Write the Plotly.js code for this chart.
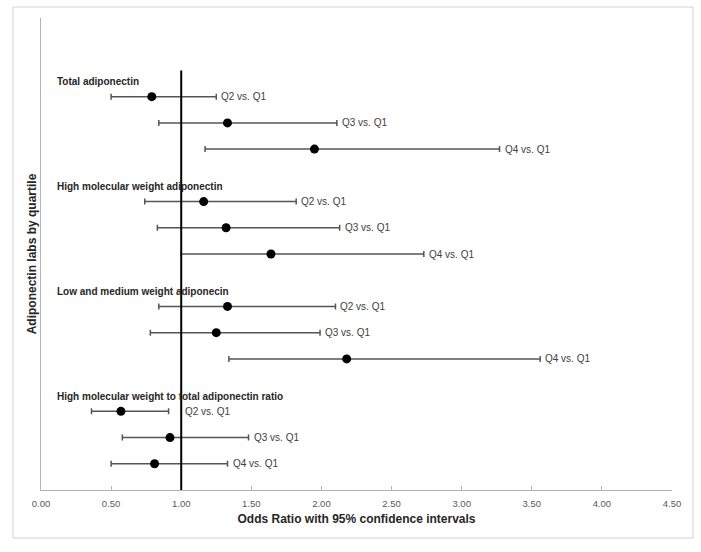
<!DOCTYPE html>
<html>
<head>
<meta charset="utf-8">
<script src="https://cdn.plot.ly/plotly-3.0.1.min.js"></script>
<style>
  html, body { margin: 0; padding: 0; background: #fff; }
  #chart { width: 701px; height: 552px; }
</style>
</head>
<body>
<div id="chart"></div>
<script>
// ---- Data ----
const groups = [
  "Total adiponectin",
  "High molecular weight adiponectin",
  "Low and medium weight adiponecin",
  "High molecular weight to total adiponectin ratio"
];
const comparisons = ["Q2 vs. Q1", "Q3 vs. Q1", "Q4 vs. Q1"];

const totalOR    = [0.79, 1.33, 1.95];
const totalLow   = [0.50, 0.84, 1.17];
const totalHigh  = [1.25, 2.11, 3.27];

const hmwOR      = [1.16, 1.32, 1.64];
const hmwLow     = [0.74, 0.83, 1.00];
const hmwHigh    = [1.82, 2.13, 2.73];

const lmwOR      = [1.33, 1.25, 2.18];
const lmwLow     = [0.84, 0.78, 1.34];
const lmwHigh    = [2.10, 1.99, 3.56];

const ratioOR    = [0.57, 0.92, 0.81];
const ratioLow   = [0.36, 0.58, 0.50];
const ratioHigh  = [0.91, 1.48, 1.33];

const xTickVals  = [0, 0.5, 1, 1.5, 2, 2.5, 3, 3.5, 4, 4.5];
const referenceOR = 1;

// ---- Build plot ----
const orSets   = [totalOR, hmwOR, lmwOR, ratioOR];
const lowSets  = [totalLow, hmwLow, lmwLow, ratioLow];
const highSets = [totalHigh, hmwHigh, lmwHigh, ratioHigh];

const xs = [], ys = [], ep = [], em = [], hi = [], labs = [];
const headerY = [];
groups.forEach((g, gi) => {
  const base = 15 - 4 * gi;
  headerY.push(base + 0.57);
  comparisons.forEach((c, ci) => {
    const o = orSets[gi][ci];
    xs.push(o);
    ys.push(base - ci);
    ep.push(highSets[gi][ci] - o);
    em.push(o - lowSets[gi][ci]);
    hi.push(highSets[gi][ci]);
    labs.push(c);
  });
});

const trace = {
  type: 'scatter',
  mode: 'markers',
  x: xs, y: ys,
  marker: { color: '#000000', size: 9 },
  error_x: {
    type: 'data', symmetric: false,
    array: ep, arrayminus: em,
    color: '#555555', thickness: 1.5, width: 3
  },
  hoverinfo: 'x+y',
  showlegend: false
};

const FONT = 'Liberation Sans, Arial, sans-serif';
const annotations = [];
groups.forEach((g, gi) => {
  annotations.push({
    text: '<b>' + g + '</b>', xref: 'paper', yref: 'y',
    x: 0.022, y: headerY[gi], xanchor: 'left', yanchor: 'middle',
    showarrow: false, font: { family: FONT, size: 10, color: '#262626' }
  });
});
labs.forEach((t, i) => {
  const past = hi[i] < referenceOR;
  annotations.push({
    text: t, xref: 'x', yref: 'y',
    x: past ? referenceOR : hi[i], y: ys[i],
    xanchor: 'left', yanchor: 'middle', xshift: past ? 2 : 3,
    showarrow: false, font: { family: FONT, size: 10, color: '#404040' }
  });
});

// outer chart border in pixel terms
const L = 41, R = 672, T = 18, B = 490;
const pw = R - L, ph = B - T;
const px = v => (v - L) / pw;
const py = v => (B - v) / ph;

const layout = {
  width: 701, height: 552,
  margin: { l: L, r: 701 - R, t: T, b: 552 - B },
  paper_bgcolor: '#ffffff', plot_bgcolor: '#ffffff',
  font: { family: FONT },
  xaxis: {
    range: [0, 4.5], tickvals: xTickVals, tickformat: '.2f',
    showgrid: false, zeroline: false,
    showline: true, linecolor: '#b3b3b3', linewidth: 1,
    ticks: 'inside', ticklen: 4, tickcolor: '#b3b3b3',
    ticklabelstandoff: 5,
    tickfont: { family: FONT, size: 9.5, color: '#595959' },
    title: { text: '<b>Odds Ratio with 95% confidence intervals</b>',
             font: { family: FONT, size: 12, color: '#262626' }, standoff: 6 },
    fixedrange: true, automargin: false
  },
  yaxis: {
    range: [0, 18], showgrid: false, zeroline: false,
    showline: true, linecolor: '#b3b3b3', linewidth: 1,
    showticklabels: false, ticks: '',
    title: { text: '<b>Adiponectin labs by quartile</b>',
             font: { family: FONT, size: 12, color: '#262626' }, standoff: 0 },
    fixedrange: true, automargin: false
  },
  shapes: [
    { type: 'line', xref: 'x', yref: 'y', x0: referenceOR, x1: referenceOR, y0: 0, y1: 16,
      line: { color: '#000000', width: 2 }, layer: 'above' },
    { type: 'rect', xref: 'paper', yref: 'paper',
      x0: px(13), x1: px(693), y0: py(538), y1: py(7),
      line: { color: '#d0d0d0', width: 1 }, layer: 'below' }
  ],
  annotations: annotations,
  showlegend: false
};

Plotly.newPlot('chart', [trace], layout, { displayModeBar: false, staticPlot: true });
</script>
</body>
</html>
